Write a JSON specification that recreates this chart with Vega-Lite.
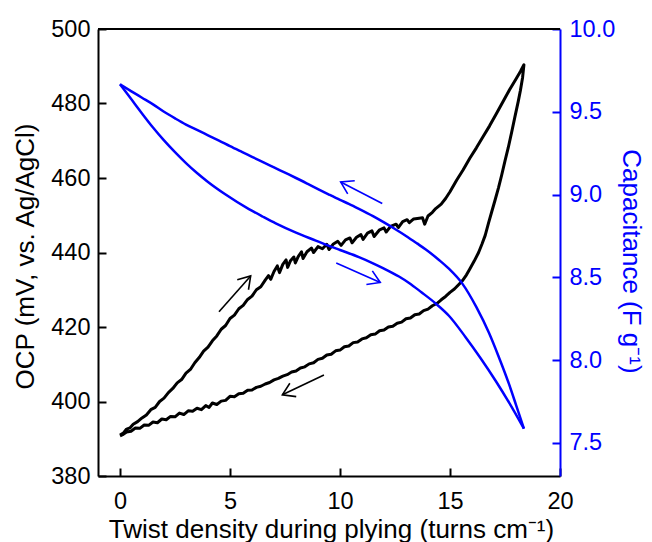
{
  "$schema": "https://vega.github.io/schema/vega-lite/v6.json",
  "width": 462,
  "height": 447,
  "autosize": {"type": "none"},
  "padding": {"left": 98, "top": 29, "right": 92, "bottom": 66},
  "background": "white",
  "config": {
    "view": {"stroke": null},
    "font": "Liberation Sans",
    "axis": {
      "grid": false,
      "labelFont": "Liberation Sans",
      "titleFont": "Liberation Sans",
      "labelFontSize": 23.5,
      "titleFontSize": 26,
      "titleFontWeight": "normal",
      "titleBaseline": "alphabetic",
      "domainWidth": 2,
      "tickWidth": 2,
      "tickSize": -8,
      "labelFlush": false,
      "labelOverlap": false,
      "labelBound": false,
      "domainColor": "black",
      "tickColor": "black",
      "labelColor": "black",
      "titleColor": "black"
    }
  },
  "datasets": {
    "ocp": [
      {"i":0,"x":0,"v":391.0},{"i":1,"x":0.15,"v":391.5},{"i":2,"x":0.3,"v":392.6},{"i":3,"x":0.45,"v":392.9},{"i":4,"x":0.6,"v":393.9},
      {"i":5,"x":0.8,"v":394.6},{"i":6,"x":1.0,"v":395.6},{"i":7,"x":1.2,"v":396.4},{"i":8,"x":1.4,"v":397.8},{"i":9,"x":1.6,"v":398.4},
      {"i":10,"x":1.8,"v":400.0},{"i":11,"x":2.0,"v":400.9},{"i":12,"x":2.2,"v":402.4},{"i":13,"x":2.4,"v":403.5},{"i":14,"x":2.6,"v":405.0},
      {"i":15,"x":2.8,"v":405.9},{"i":16,"x":3.0,"v":407.6},{"i":17,"x":3.2,"v":408.6},{"i":18,"x":3.4,"v":410.4},{"i":19,"x":3.6,"v":411.8},
      {"i":20,"x":3.8,"v":413.5},{"i":21,"x":4.0,"v":414.6},{"i":22,"x":4.2,"v":416.3},{"i":23,"x":4.4,"v":417.6},{"i":24,"x":4.6,"v":419.4},
      {"i":25,"x":4.8,"v":420.4},{"i":26,"x":5.0,"v":422.3},{"i":27,"x":5.2,"v":423.2},{"i":28,"x":5.4,"v":424.9},{"i":29,"x":5.6,"v":425.8},
      {"i":30,"x":5.8,"v":427.4},{"i":31,"x":6.0,"v":428.3},{"i":32,"x":6.2,"v":430.0},{"i":33,"x":6.4,"v":430.8},{"i":34,"x":6.6,"v":432.6},
      {"i":35,"x":6.75,"v":433.8},{"i":36,"x":6.85,"v":432.8},{"i":37,"x":7.0,"v":434.9},{"i":38,"x":7.15,"v":436.4},{"i":39,"x":7.25,"v":434.6},
      {"i":40,"x":7.4,"v":436.8},{"i":41,"x":7.55,"v":438.0},{"i":42,"x":7.62,"v":436.0},{"i":43,"x":7.75,"v":437.8},{"i":44,"x":7.9,"v":438.8},
      {"i":45,"x":7.97,"v":437.2},{"i":46,"x":8.1,"v":438.9},{"i":47,"x":8.25,"v":440.2},{"i":48,"x":8.32,"v":438.4},{"i":49,"x":8.5,"v":440.2},
      {"i":50,"x":8.7,"v":441.2},{"i":51,"x":8.8,"v":440.0},{"i":52,"x":9.0,"v":441.6},{"i":53,"x":9.2,"v":441.0},{"i":54,"x":9.4,"v":442.2},
      {"i":55,"x":9.5,"v":440.8},{"i":56,"x":9.7,"v":442.3},{"i":57,"x":9.9,"v":443.0},{"i":58,"x":10.05,"v":441.9},{"i":59,"x":10.25,"v":443.4},
      {"i":60,"x":10.45,"v":443.9},{"i":61,"x":10.55,"v":442.6},{"i":62,"x":10.75,"v":444.1},{"i":63,"x":10.95,"v":444.8},{"i":64,"x":11.05,"v":443.5},
      {"i":65,"x":11.25,"v":445.2},{"i":66,"x":11.45,"v":445.8},{"i":67,"x":11.55,"v":444.3},{"i":68,"x":11.8,"v":446.1},{"i":69,"x":12.0,"v":446.6},
      {"i":70,"x":12.1,"v":445.5},{"i":71,"x":12.3,"v":447.0},{"i":72,"x":12.55,"v":447.6},{"i":73,"x":12.65,"v":446.7},{"i":74,"x":12.85,"v":448.3},
      {"i":75,"x":13.05,"v":448.8},{"i":76,"x":13.15,"v":448.0},{"i":77,"x":13.35,"v":449.0},{"i":78,"x":13.6,"v":449.2},{"i":79,"x":13.75,"v":449.3},
      {"i":80,"x":13.85,"v":447.6},{"i":81,"x":14.0,"v":449.8},{"i":82,"x":14.2,"v":450.8},{"i":83,"x":14.35,"v":451.8},{"i":84,"x":14.6,"v":453.0},
      {"i":85,"x":14.8,"v":454.5},{"i":86,"x":15.0,"v":456.3},{"i":87,"x":15.3,"v":459.4},{"i":88,"x":15.6,"v":462.2},{"i":89,"x":15.9,"v":465.3},
      {"i":90,"x":16.2,"v":468.1},{"i":91,"x":16.5,"v":471.1},{"i":92,"x":16.8,"v":474.0},{"i":93,"x":17.1,"v":477.2},{"i":94,"x":17.4,"v":480.4},
      {"i":95,"x":17.7,"v":483.6},{"i":96,"x":18.0,"v":486.6},{"i":97,"x":18.2,"v":488.6},{"i":98,"x":18.36,"v":490.4},
      {"i":99,"x":18.3,"v":487.0},{"i":100,"x":18.2,"v":483.5},{"i":101,"x":18.1,"v":480.5},{"i":102,"x":17.95,"v":476.4},{"i":103,"x":17.8,"v":472.2},
      {"i":104,"x":17.65,"v":468.2},{"i":105,"x":17.5,"v":464.6},{"i":106,"x":17.35,"v":460.8},{"i":107,"x":17.2,"v":457.3},{"i":108,"x":17.05,"v":454.1},
      {"i":109,"x":16.9,"v":451.0},{"i":110,"x":16.75,"v":447.9},{"i":111,"x":16.6,"v":444.6},{"i":112,"x":16.45,"v":442.2},{"i":113,"x":16.3,"v":440.0},
      {"i":114,"x":16.1,"v":437.7},{"i":115,"x":15.9,"v":435.6},{"i":116,"x":15.75,"v":434.0},{"i":117,"x":15.56,"v":432.4},{"i":118,"x":15.4,"v":431.4},
      {"i":119,"x":15.2,"v":430.2},{"i":120,"x":15.0,"v":429.3},{"i":121,"x":14.8,"v":428.2},{"i":122,"x":14.6,"v":427.3},{"i":123,"x":14.4,"v":426.3},
      {"i":124,"x":14.2,"v":425.7},{"i":125,"x":14.0,"v":424.8},{"i":126,"x":13.8,"v":424.4},{"i":127,"x":13.6,"v":423.5},{"i":128,"x":13.4,"v":423.3},
      {"i":129,"x":13.2,"v":422.4},{"i":130,"x":13.0,"v":422.2},{"i":131,"x":12.8,"v":421.3},{"i":132,"x":12.6,"v":421.0},{"i":133,"x":12.4,"v":420.2},
      {"i":134,"x":12.2,"v":420.0},{"i":135,"x":12.0,"v":419.2},{"i":136,"x":11.8,"v":419.0},{"i":137,"x":11.6,"v":418.1},{"i":138,"x":11.4,"v":417.9},
      {"i":139,"x":11.2,"v":417.1},{"i":140,"x":11.0,"v":416.8},{"i":141,"x":10.8,"v":416.0},{"i":142,"x":10.6,"v":415.8},{"i":143,"x":10.4,"v":414.9},
      {"i":144,"x":10.2,"v":414.7},{"i":145,"x":10.0,"v":413.8},{"i":146,"x":9.8,"v":413.6},{"i":147,"x":9.6,"v":412.7},{"i":148,"x":9.4,"v":412.5},
      {"i":149,"x":9.2,"v":411.6},{"i":150,"x":9.0,"v":411.3},{"i":151,"x":8.8,"v":410.4},{"i":152,"x":8.6,"v":410.1},{"i":153,"x":8.4,"v":409.3},
      {"i":154,"x":8.2,"v":409.0},{"i":155,"x":8.0,"v":408.2},{"i":156,"x":7.8,"v":407.9},{"i":157,"x":7.6,"v":407.2},{"i":158,"x":7.4,"v":406.8},
      {"i":159,"x":7.2,"v":406.2},{"i":160,"x":7.0,"v":405.8},{"i":161,"x":6.8,"v":405.1},{"i":162,"x":6.6,"v":404.7},{"i":163,"x":6.4,"v":404.1},
      {"i":164,"x":6.2,"v":403.8},{"i":165,"x":6.0,"v":403.1},{"i":166,"x":5.8,"v":403.0},{"i":167,"x":5.6,"v":402.2},{"i":168,"x":5.4,"v":402.1},
      {"i":169,"x":5.2,"v":401.3},{"i":170,"x":5.0,"v":401.4},{"i":171,"x":4.8,"v":400.3},{"i":172,"x":4.6,"v":400.1},{"i":173,"x":4.4,"v":399.2},
      {"i":174,"x":4.2,"v":399.6},{"i":175,"x":4.05,"v":398.4},{"i":176,"x":3.9,"v":398.9},{"i":177,"x":3.7,"v":397.8},{"i":178,"x":3.5,"v":398.2},
      {"i":179,"x":3.3,"v":397.4},{"i":180,"x":3.1,"v":397.5},{"i":181,"x":2.9,"v":396.5},{"i":182,"x":2.7,"v":396.9},{"i":183,"x":2.5,"v":395.9},
      {"i":184,"x":2.3,"v":396.0},{"i":185,"x":2.1,"v":395.1},{"i":186,"x":1.9,"v":395.3},{"i":187,"x":1.7,"v":394.3},{"i":188,"x":1.5,"v":394.5},
      {"i":189,"x":1.3,"v":393.6},{"i":190,"x":1.1,"v":393.7},{"i":191,"x":0.9,"v":392.8},{"i":192,"x":0.7,"v":392.9},{"i":193,"x":0.5,"v":392.0},
      {"i":194,"x":0.3,"v":391.8},{"i":195,"x":0.15,"v":391.2},{"i":196,"x":0,"v":390.8}
    ],
    "cap": [
      {"b":"u","x":0,"v":9.666},{"b":"u","x":0.5,"v":9.625},{"b":"u","x":1.0,"v":9.585},{"b":"u","x":1.5,"v":9.545},{"b":"u","x":2.0,"v":9.5},
      {"b":"u","x":2.53,"v":9.458},{"b":"u","x":3.0,"v":9.423},{"b":"u","x":3.5,"v":9.39},{"b":"u","x":4.0,"v":9.358},{"b":"u","x":4.5,"v":9.326},
      {"b":"u","x":5.0,"v":9.292},{"b":"u","x":5.56,"v":9.256},{"b":"u","x":6.0,"v":9.228},{"b":"u","x":6.5,"v":9.196},{"b":"u","x":7.0,"v":9.164},
      {"b":"u","x":7.5,"v":9.132},{"b":"u","x":8.0,"v":9.1},{"b":"u","x":8.6,"v":9.06},{"b":"u","x":9.0,"v":9.033},{"b":"u","x":9.5,"v":9.0},
      {"b":"u","x":10.0,"v":8.968},{"b":"u","x":10.4,"v":8.944},{"b":"u","x":10.86,"v":8.914},{"b":"u","x":11.5,"v":8.87},{"b":"u","x":12.0,"v":8.832},
      {"b":"u","x":12.5,"v":8.792},{"b":"u","x":13.0,"v":8.75},{"b":"u","x":13.5,"v":8.705},{"b":"u","x":13.9,"v":8.668},{"b":"u","x":14.5,"v":8.605},
      {"b":"u","x":14.95,"v":8.552},{"b":"u","x":15.56,"v":8.462},{"b":"u","x":16.2,"v":8.32},{"b":"u","x":16.77,"v":8.165},{"b":"u","x":17.2,"v":8.025},
      {"b":"u","x":17.68,"v":7.856},{"b":"u","x":18.0,"v":7.73},{"b":"u","x":18.36,"v":7.586},
      {"b":"l","x":0,"v":9.666},{"b":"l","x":0.5,"v":9.578},{"b":"l","x":1.0,"v":9.49},{"b":"l","x":1.5,"v":9.405},{"b":"l","x":2.0,"v":9.327},
      {"b":"l","x":2.5,"v":9.256},{"b":"l","x":3.0,"v":9.19},{"b":"l","x":3.5,"v":9.13},{"b":"l","x":4.0,"v":9.076},{"b":"l","x":4.8,"v":9.0},
      {"b":"l","x":5.86,"v":8.912},{"b":"l","x":6.5,"v":8.866},{"b":"l","x":7.08,"v":8.826},{"b":"l","x":8.0,"v":8.77},{"b":"l","x":8.9,"v":8.722},
      {"b":"l","x":9.35,"v":8.698},{"b":"l","x":10.0,"v":8.665},{"b":"l","x":10.86,"v":8.622},{"b":"l","x":11.5,"v":8.585},{"b":"l","x":12.0,"v":8.553},
      {"b":"l","x":12.68,"v":8.505},{"b":"l","x":13.14,"v":8.466},{"b":"l","x":13.7,"v":8.41},{"b":"l","x":14.35,"v":8.342},{"b":"l","x":14.95,"v":8.268},
      {"b":"l","x":15.7,"v":8.14},{"b":"l","x":16.4,"v":8.01},{"b":"l","x":17.08,"v":7.874},{"b":"l","x":17.7,"v":7.74},{"b":"l","x":18.36,"v":7.586}
    ],
    "arrowsBlack": [
      {"s":"a1s","i":0,"x":4.5,"v":424.1},{"s":"a1s","i":1,"x":5.94,"v":433.7},
      {"s":"a1h","i":0,"x":5.33,"v":432.7},{"s":"a1h","i":1,"x":5.94,"v":433.7},{"s":"a1h","i":2,"x":5.84,"v":430.0},
      {"s":"a2s","i":0,"x":9.27,"v":407.1},{"s":"a2s","i":1,"x":7.38,"v":401.8},
      {"s":"a2h","i":0,"x":8.01,"v":401.3},{"s":"a2h","i":1,"x":7.38,"v":401.8},{"s":"a2h","i":2,"x":7.72,"v":404.9}
    ],
    "arrowsBlue": [
      {"s":"b1s","i":0,"x":11.92,"v":8.946},{"s":"b1s","i":1,"x":10.03,"v":9.076},
      {"s":"b1h","i":0,"x":10.35,"v":9.004},{"s":"b1h","i":1,"x":10.03,"v":9.076},{"s":"b1h","i":2,"x":10.67,"v":9.083},
      {"s":"b2s","i":0,"x":9.83,"v":8.586},{"s":"b2s","i":1,"x":11.83,"v":8.469},
      {"s":"b2h","i":0,"x":11.47,"v":8.539},{"s":"b2h","i":1,"x":11.83,"v":8.469},{"s":"b2h","i":2,"x":11.2,"v":8.457}
    ]
  },
  "layer": [
    {
      "layer": [
        {
          "data": {"values": [{}]},
          "mark": {"type": "rule", "color": "black", "strokeWidth": 2},
          "encoding": {
            "x": {"datum": -1, "type": "quantitative"},
            "x2": {"datum": 20},
            "y": {"datum": 500, "type": "quantitative"}
          }
        },
        {
          "data": {"name": "ocp"},
          "mark": {"type": "line", "color": "black", "strokeWidth": 3, "strokeJoin": "round"},
          "encoding": {
            "x": {"field": "x", "type": "quantitative"},
            "y": {"field": "v", "type": "quantitative"},
            "order": {"field": "i"}
          }
        },
        {
          "data": {"name": "arrowsBlack"},
          "mark": {"type": "line", "color": "black", "strokeWidth": 1.6},
          "encoding": {
            "x": {"field": "x", "type": "quantitative"},
            "y": {"field": "v", "type": "quantitative"},
            "detail": {"field": "s"},
            "order": {"field": "i"}
          }
        }
      ],
      "encoding": {
        "x": {
          "type": "quantitative",
          "scale": {"domain": [-1, 20], "nice": false, "zero": false},
          "axis": {
            "orient": "bottom",
            "values": [0, 5, 10, 15, 20],
            "labelPadding": 21,
            "titleX": 233,
            "titleY": 61,
            "title": "Twist density during plying (turns cm⁻¹)"
          }
        },
        "y": {
          "type": "quantitative",
          "scale": {"domain": [380, 500], "nice": false, "zero": false},
          "axis": {
            "orient": "left",
            "values": [380, 400, 420, 440, 460, 480, 500],
            "labelPadding": 16,
            "titleX": -65,
            "titleY": 227,
            "title": "OCP (mV, vs. Ag/AgCl)"
          }
        }
      }
    },
    {
      "layer": [
        {
          "data": {"name": "cap"},
          "mark": {"type": "line", "color": "#0000FF", "strokeWidth": 2.5, "interpolate": "monotone"},
          "encoding": {
            "x": {"field": "x", "type": "quantitative"},
            "y": {"field": "v", "type": "quantitative"},
            "detail": {"field": "b"}
          }
        },
        {
          "data": {"name": "arrowsBlue"},
          "mark": {"type": "line", "color": "#0000FF", "strokeWidth": 1.6},
          "encoding": {
            "x": {"field": "x", "type": "quantitative"},
            "y": {"field": "v", "type": "quantitative"},
            "detail": {"field": "s"},
            "order": {"field": "i"}
          }
        }
      ],
      "encoding": {
        "y": {
          "type": "quantitative",
          "scale": {"domain": [7.3, 10.0], "nice": false, "zero": false},
          "axis": {
            "orient": "right",
            "values": [7.5, 8.0, 8.5, 9.0, 9.5, 10.0],
            "format": ".1f",
            "labelPadding": 17,
            "titleX": 62,
            "titleY": 232,
            "domainColor": "#0000FF",
            "tickColor": "#0000FF",
            "labelColor": "#0000FF",
            "titleColor": "#0000FF",
            "title": "Capacitance (F g⁻¹)"
          }
        }
      }
    }
  ],
  "resolve": {"scale": {"y": "independent"}}
}
